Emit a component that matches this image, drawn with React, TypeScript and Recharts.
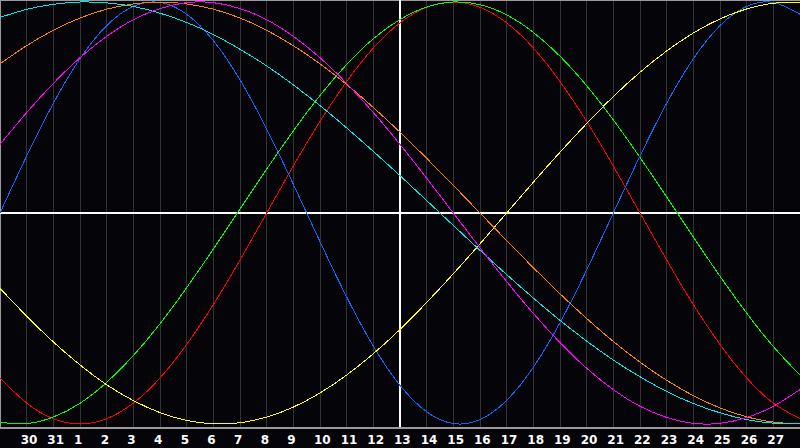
import React from "react";
import { LineChart, Line, XAxis, YAxis, CartesianGrid, ReferenceLine } from "recharts";

// Day labels for each column (index 0..30)
const dayLabels = ["29","30","31","1","2","3","4","5","6","7","8","9","10","11","12","13","14","15","16","17","18","19","20","21","22","23","24","25","26","27","28"];
const todayIndex = 15;

// Cycle values (percent) read per day
const physical = [0,27.0,52.0,73.1,88.8,97.9,99.8,94.2,81.7,63.1,39.8,13.6,-13.6,-39.8,-63.1,-81.7,-94.2,-99.8,-97.9,-88.8,-73.1,-52.0,-27.0,0,27.0,52.0,73.1,88.8,97.9,99.8,94.2];
const emotional = [-78.2,-90.1,-97.5,-100,-97.5,-90.1,-78.2,-62.3,-43.4,-22.3,0,22.3,43.4,62.3,78.2,90.1,97.5,100,97.5,90.1,78.2,62.3,43.4,22.3,0,-22.3,-43.4,-62.3,-78.2,-90.1,-97.5];
const intellectual = [-99.2,-99.8,-96.7,-90.2,-80.3,-67.6,-52.5,-35.4,-17.1,1.9,20.8,38.9,55.7,70.4,82.6,91.7,97.6,100,98.7,93.9,85.6,74.3,60.3,44.1,26.3,7.6,-11.4,-30.0,-47.5,-63.3,-76.8];
const intuitive = [32.5,47.6,61.4,73.6,83.7,91.6,96.9,99.7,99.7,96.9,91.6,83.7,73.6,61.4,47.6,32.5,16.5,0,-16.5,-32.5,-47.6,-61.4,-73.6,-83.7,-91.6,-96.9,-99.7,-99.7,-96.9,-91.6,-83.7];
const aesthetic = [-35.7,-48.9,-61.1,-72.0,-81.4,-88.9,-94.6,-98.3,-99.9,-99.4,-96.7,-92.0,-85.3,-76.8,-66.7,-55.2,-42.4,-28.8,-14.6,0,14.6,28.8,42.4,55.2,66.7,76.8,85.3,92.0,96.7,99.4,99.9];
const awareness = [70.7,79.3,86.6,92.4,96.6,99.1,100,99.1,96.6,92.4,86.6,79.3,70.7,60.9,50.0,38.3,25.9,13.1,0,-13.1,-25.9,-38.3,-50.0,-60.9,-70.7,-79.3,-86.6,-92.4,-96.6,-99.1,-100];
const spiritual = [92.7,96.5,98.9,100,99.6,97.9,94.7,90.3,84.6,77.6,69.7,60.7,50.9,40.3,29.2,17.7,5.9,-5.9,-17.7,-29.2,-40.3,-50.9,-60.7,-69.7,-77.6,-84.6,-90.3,-94.7,-97.9,-99.6,-100];

const tickIdx = dayLabels.map((_, i) => i).filter((i) => i > 0 && i < dayLabels.length - 1);

const data = dayLabels.map((d, i) => ({
  idx: i,
  day: d,
  physical: physical[i],
  emotional: emotional[i],
  intellectual: intellectual[i],
  intuitive: intuitive[i],
  aesthetic: aesthetic[i],
  awareness: awareness[i],
  spiritual: spiritual[i],
}));

const series = [
  { key: "emotional", color: "#ff0000" },
  { key: "intellectual", color: "#00ff00" },
  { key: "physical", color: "#1464ff" },
  { key: "aesthetic", color: "#ffff00" },
  { key: "awareness", color: "#ff8000" },
  { key: "spiritual", color: "#00e8e8" },
  { key: "intuitive", color: "#ff00ff" },
];

const Tick = (props: any) => {
  const { x, payload } = props;
  const label = dayLabels[payload.value];
  return (
    <text
      x={x - 6}
      y={443.5}
      fill="#ffffff"
      fontSize={12}
      fontWeight="bold"
      fontFamily="DejaVu Sans"
      textAnchor="start"
    >
      {label}
    </text>
  );
};

export default function App() {
  return (
    <div style={{ position: "absolute", left: 0, top: 0, width: 800, height: 448, background: "#050408" }}>
      <LineChart width={800} height={448} data={data} margin={{ top: 0, right: 0, bottom: 0, left: 0 }}>
        <CartesianGrid horizontal={false} stroke="#333333" strokeDasharray="" shapeRendering="crispEdges" />
        <XAxis
          dataKey="idx"
          type="number"
          domain={[0, 30]}
          ticks={tickIdx}
          interval={0}
          height={20}
          tickLine={false}
          axisLine={{ stroke: "#9a9a9a", strokeWidth: 2 }}
          tick={<Tick />}
        />
        <YAxis hide domain={[-101.9, 100.95]} width={0} />
        <ReferenceLine x={0} stroke="#9a9a9a" strokeWidth={2} />
        <ReferenceLine y={100.95} stroke="#9a9a9a" strokeWidth={2} />
        <ReferenceLine x={todayIndex} stroke="#ffffff" strokeWidth={2} />
        <ReferenceLine y={0} stroke="#ffffff" strokeWidth={2} />
        {series.map((s) => (
          <Line
            key={s.key}
            dataKey={s.key}
            type="natural"
            stroke={s.color}
            strokeWidth={1}
            dot={false}
            activeDot={false}
            isAnimationActive={false}
            shapeRendering="crispEdges"
          />
        ))}
      </LineChart>
    </div>
  );
}
